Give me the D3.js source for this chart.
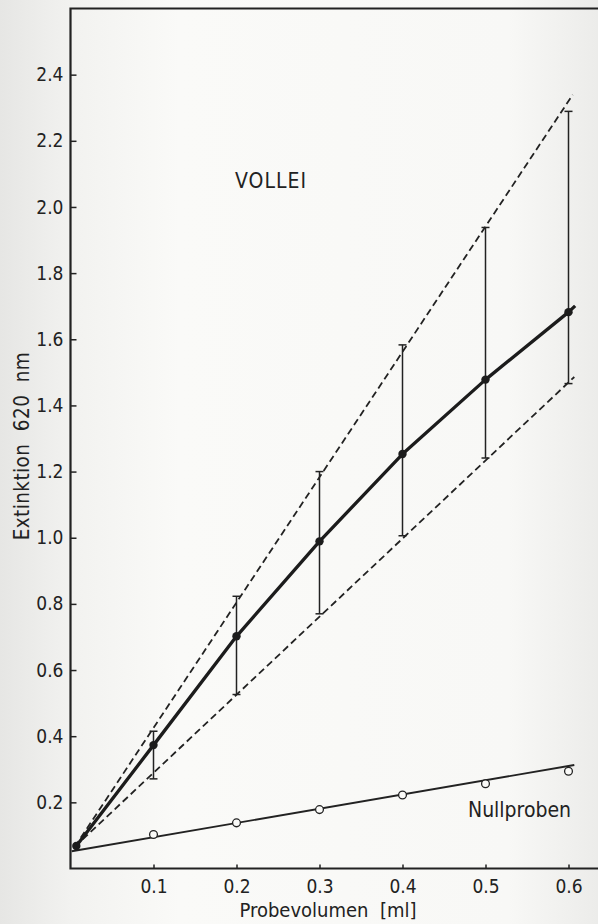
<!DOCTYPE html>
<html><head><meta charset="utf-8">
<script src="https://cdn.jsdelivr.net/npm/d3@7"></script>
<style>
html,body{margin:0;padding:0;background:#f4f4f2;}
svg{display:block;}
text{font-family:"DejaVu Sans Condensed","DejaVu Sans","Liberation Sans Narrow",sans-serif;fill:#222;white-space:pre;}
</style></head>
<body>
<script>
// ---- data ----
const volumes = [0.1, 0.2, 0.3, 0.4, 0.5, 0.6];
const volleiMean = [0.373, 0.702, 0.989, 1.253, 1.478, 1.682];
const volleiHigh = [0.415, 0.823, 1.200, 1.583, 1.938, 2.289];
const volleiLow  = [0.271, 0.526, 0.770, 1.006, 1.241, 1.466];
const origin = [0.007, 0.068];
const meanLineEnd = [0.608, 1.701];
const upperDashed = [[0.005, 0.065], [0.605, 2.339]];
const lowerDashed = [[0.005, 0.065], [0.607, 1.486]];
const nullValues = [0.103, 0.138, 0.178, 0.222, 0.256, 0.294];
const nullLine = [[0.0015, 0.052], [0.607, 0.313]];
const xTicks = [0.1, 0.2, 0.3, 0.4, 0.5, 0.6];
const yTicks = [0.2, 0.4, 0.6, 0.8, 1.0, 1.2, 1.4, 1.6, 1.8, 2.0, 2.2, 2.4];
const xTitle = "Probevolumen  [ml]";
const yTitle = "Extinktion  620  nm";
const seriesLabel = "VOLLEI";
const nullLabel = "Nullproben";

const W = 598, H = 924;
const ink = "#222";
const svg = d3.select("body").append("svg").attr("width", W).attr("height", H);

// paper background
const defs = svg.append("defs");
const g1 = defs.append("linearGradient").attr("id","paper").attr("x1","0").attr("x2","1").attr("y1","0").attr("y2","0");
g1.append("stop").attr("offset","0").attr("stop-color","#e6e6e4");
g1.append("stop").attr("offset","0.12").attr("stop-color","#f2f2f0");
g1.append("stop").attr("offset","0.3").attr("stop-color","#fafaf8");
g1.append("stop").attr("offset","0.85").attr("stop-color","#f8f8f6");
g1.append("stop").attr("offset","1").attr("stop-color","#ececea");
svg.append("rect").attr("width",W).attr("height",H).attr("fill","url(#paper)");

const x = d3.scaleLinear().domain([0, 0.65]).range([70.5, 70.5 + 0.65 * 830]);
const y = d3.scaleLinear().domain([0, 2.6]).range([868.5, 8.5]);

// frame lines (left, bottom, top)
svg.append("path")
  .attr("d", `M${W},${y(2.6)}H${x(0)}V${y(0)}H${W}`)
  .attr("fill","none").attr("stroke",ink).attr("stroke-width",2.2);

const tickFont = '"DejaVu Sans Condensed","DejaVu Sans",sans-serif';

// y axis
const yAxis = d3.axisLeft(y).tickValues(yTicks).tickFormat(d3.format(".1f")).tickSize(-6).tickPadding(7);
const gy = svg.append("g").attr("transform",`translate(${x(0)},0)`).call(yAxis);
gy.select(".domain").remove();
gy.selectAll(".tick line").attr("stroke",ink).attr("stroke-width",1.5);
gy.selectAll(".tick text").attr("font-size",19).attr("fill",ink).attr("font-family",tickFont);

// x axis
const xAxis = d3.axisBottom(x).tickValues(xTicks).tickFormat(d3.format(".1f")).tickSize(-4).tickPadding(11);
const gx = svg.append("g").attr("transform",`translate(0,${y(0)})`).call(xAxis);
gx.select(".domain").remove();
gx.selectAll(".tick line").attr("stroke",ink).attr("stroke-width",1.5);
gx.selectAll(".tick text").attr("font-size",19).attr("fill",ink).attr("font-family",tickFont);

// axis titles
svg.append("text").attr("x", 328).attr("y", 917).attr("text-anchor","middle")
  .attr("font-size",20).text(xTitle);
svg.append("text").attr("transform","translate(29,446) rotate(-90)").attr("text-anchor","middle")
  .attr("font-size",20.5).attr("letter-spacing",0.4).text(yTitle);

const line = d3.line().x(d => x(d[0])).y(d => y(d[1]));

// dashed envelope lines
[upperDashed, lowerDashed].forEach(pts => {
  svg.append("path").attr("d", line(pts)).attr("fill","none")
    .attr("stroke",ink).attr("stroke-width",1.8).attr("stroke-dasharray","7,4");
});

// null line
svg.append("path").attr("d", line(nullLine)).attr("fill","none")
  .attr("stroke",ink).attr("stroke-width",1.9);

// error bars
volumes.forEach((v,i) => {
  svg.append("line").attr("x1",x(v)).attr("x2",x(v)).attr("y1",y(volleiLow[i])).attr("y2",y(volleiHigh[i]))
    .attr("stroke",ink).attr("stroke-width",1.5);
  [volleiLow[i], volleiHigh[i]].forEach(e => {
    svg.append("line").attr("x1",x(v)-4).attr("x2",x(v)+4).attr("y1",y(e)).attr("y2",y(e))
      .attr("stroke",ink).attr("stroke-width",1.5);
  });
});

// mean line
const meanPts = [origin].concat(volumes.map((v,i)=>[v, volleiMean[i]])).concat([meanLineEnd]);
svg.append("path").attr("d", line(meanPts)).attr("fill","none")
  .attr("stroke","#1c1c1c").attr("stroke-width",3.3).attr("stroke-linejoin","round");

// mean dots
svg.selectAll(".mdot").data([origin].concat(volumes.map((v,i)=>[v, volleiMean[i]])))
  .enter().append("circle").attr("cx",d=>x(d[0])).attr("cy",d=>y(d[1])).attr("r",4.2).attr("fill","#1c1c1c");

// null circles
svg.selectAll(".ndot").data(volumes.map((v,i)=>[v, nullValues[i]]))
  .enter().append("circle").attr("cx",d=>x(d[0])).attr("cy",d=>y(d[1])).attr("r",3.9)
  .attr("fill","#fafaf8").attr("stroke",ink).attr("stroke-width",1.3);

// labels
svg.append("text").attr("x",235).attr("y",188).attr("font-size",21).attr("letter-spacing",1).text(seriesLabel);
svg.append("text").attr("x",468).attr("y",817).attr("font-size",21).text(nullLabel);
</script>
</body></html>
